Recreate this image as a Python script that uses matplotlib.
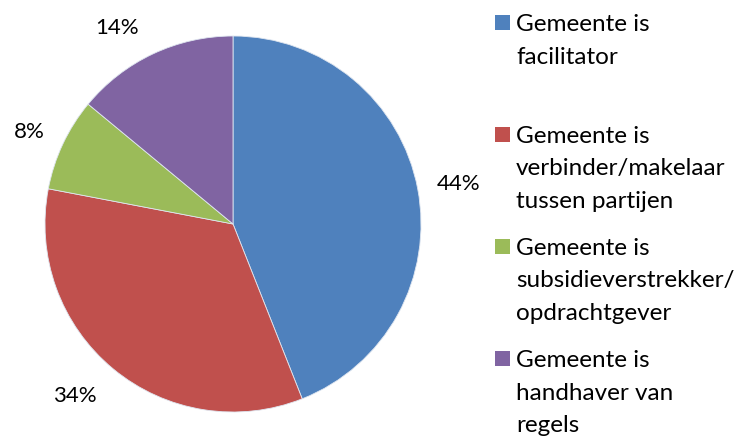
import numpy as np
import matplotlib.pyplot as plt
from matplotlib.patches import Rectangle

plt.rcParams["font.family"] = ["Lato", "DejaVu Sans"]

categories = [
    "Gemeente is\nfacilitator",
    "Gemeente is\nverbinder/makelaar\ntussen partijen",
    "Gemeente is\nsubsidieverstrekker/\nopdrachtgever",
    "Gemeente is\nhandhaver van\nregels",
]
shares = [44, 34, 8, 14]
colors = ["#4F81BD", "#C0504D", "#9BBB59", "#8064A2"]

# outside-end label placement (radius multiples, angle nudge in degrees)
label_dist = [1.22, 1.24, 1.19, 1.21]
label_nudge = [-0.8, -3.0, 0.9, 5.4]

W, H = 741, 437
fig = plt.figure(figsize=(W / 100, H / 100), dpi=100)

# pie centre and radius in pixels (from top-left)
cx, cy, r = 233, 224, 188
ax = fig.add_axes([(cx - r) / W, (H - cy - r) / H, 2 * r / W, 2 * r / H])
wedges, _, autotexts = ax.pie(
    shares,
    colors=colors,
    startangle=90,
    counterclock=False,
    radius=1,
    autopct=lambda p: f"{p:.0f}%",
    wedgeprops=dict(edgecolor="#dfe6f0", linewidth=0.6),
    textprops=dict(fontsize=16, color="black"),
)
for w, t, d, nudge in zip(wedges, autotexts, label_dist, label_nudge):
    mid = np.deg2rad((w.theta1 + w.theta2) / 2 + nudge)
    t.set_position((d * np.cos(mid), d * np.sin(mid)))
    t.set_ha("center")
    t.set_va("center")

ax.set_xlim(-1, 1)
ax.set_ylim(-1, 1)
ax.set_aspect("equal")
ax.axis("off")

# legend, Excel style: equally spaced entries
x_box, x_text = 495, 516
base0, entry_gap, line_gap = 31, 112, 32.5
for i, (label, color) in enumerate(zip(categories, colors)):
    base = base0 + i * entry_gap
    fig.patches.append(Rectangle((x_box / W, (H - base + 1) / H),
                                 15 / W, 15 / H, transform=fig.transFigure,
                                 facecolor=color, edgecolor="none"))
    for j, line in enumerate(label.split("\n")):
        fig.text(x_text / W, (H - base - j * line_gap) / H, line,
                 fontsize=17.5, va="baseline", ha="left", color="black")

fig.savefig("out.png", dpi=100)
